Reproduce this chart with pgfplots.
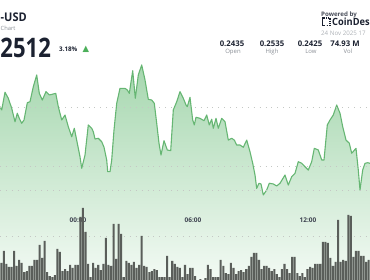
\documentclass[border=0pt]{standalone}
\usepackage{pgfplots}
\pgfplotsset{compat=1.18}
\usepackage{pgfplotstable}
\usepackage{fontspec}
\setmainfont{Open Sans}
\newfontfamily\symfont{DejaVu Sans}
\definecolor{linegreen}{HTML}{66B673}
\definecolor{filltop}{HTML}{A6D7AF}
\definecolor{fillbot}{HTML}{F3FAF4}
\definecolor{bargray}{HTML}{5A5E5A}
\definecolor{darktxt}{HTML}{1B2130}
\definecolor{graytxt}{HTML}{8A8F96}
\definecolor{gridc}{HTML}{C4C7C4}
\definecolor{upgreen}{HTML}{4CAF5A}

\pgfplotstableread{
h p
-4.070 0.25003
-3.981 0.24975
-3.809 0.25125
-3.637 0.25074
-3.459 0.24989
-3.287 0.24875
-3.167 0.24947
-3.063 0.24904
-2.937 0.24862
-2.817 0.24890
-2.645 0.25036
-2.504 0.25045
-2.332 0.25172
-2.155 0.25271
-2.019 0.25116
-1.863 0.25059
-1.670 0.25130
-1.497 0.25102
-1.341 0.25108
-1.163 0.25116
-1.028 0.25003
-0.850 0.24890
-0.678 0.24932
-0.506 0.24833
-0.329 0.24748
-0.193 0.24820
-0.037 0.24693
0.104 0.24579
0.193 0.24481
0.365 0.24593
0.537 0.24848
0.715 0.24820
0.798 0.24791
0.887 0.24729
1.059 0.24735
1.237 0.24706
1.357 0.24659
1.497 0.24551
1.550 0.24452
1.670 0.24452
1.758 0.24551
1.878 0.24805
2.019 0.25031
2.191 0.25158
2.452 0.25158
2.572 0.25144
2.677 0.25116
2.854 0.25307
2.990 0.25074
3.146 0.25271
3.323 0.25356
3.496 0.25229
3.668 0.25065
3.845 0.25059
3.981 0.25031
4.106 0.24862
4.226 0.24693
4.330 0.24593
4.487 0.24715
4.659 0.24636
4.837 0.24630
4.972 0.24975
5.150 0.25045
5.322 0.25130
5.494 0.25074
5.635 0.25017
5.703 0.25003
5.843 0.25082
5.984 0.24890
6.068 0.24848
6.157 0.24913
6.365 0.24904
6.574 0.24884
6.715 0.24932
6.850 0.24848
6.976 0.24896
7.059 0.24820
7.200 0.24904
7.320 0.24820
7.497 0.24904
7.670 0.24875
7.842 0.24720
8.019 0.24735
8.155 0.24720
8.280 0.24678
8.452 0.24678
8.624 0.24659
8.802 0.24720
8.974 0.24621
9.115 0.24523
9.235 0.24424
9.323 0.24311
9.443 0.24354
9.548 0.24348
9.668 0.24255
9.845 0.24297
9.981 0.24354
10.190 0.24348
10.367 0.24331
10.539 0.24354
10.800 0.24424
10.972 0.24339
11.150 0.24410
11.322 0.24438
11.494 0.24537
11.671 0.24523
11.843 0.24494
12.016 0.24466
12.193 0.24537
12.329 0.24650
12.537 0.24636
12.715 0.24551
12.835 0.24551
13.007 0.24848
13.148 0.24890
13.320 0.24932
13.497 0.25017
13.670 0.24947
13.811 0.24833
13.983 0.24720
14.155 0.24693
14.280 0.24608
14.504 0.24650
14.624 0.24466
14.713 0.24297
14.853 0.24466
14.974 0.24523
15.115 0.24528
15.235 0.24523
}\pricedata

\begin{document}
\begin{tikzpicture}
\useasboundingbox (0,0) rectangle (370bp,280bp);
% price axis
\begin{axis}[
  at={(0,0)}, anchor=south west,
  width=370bp, height=280bp, scale only axis,
  xmin=-4.070, xmax=15.235,
  ymin=0.235347, ymax=0.259063,
  axis line style={draw=none},
  tick style={draw=none},
  ytick={0.245,0.25}, yticklabels={},
  ymajorgrids,
  major grid style={gridc, line width=0.9bp, dash pattern=on 0.9bp off 5bp},
  xtick={0,6,12},
  xticklabels={00:00,06:00,12:00},
  xticklabel style={anchor=center, yshift=60bp, font=\fontsize{6.5}{7}\selectfont\bfseries, text=darktxt!85},
  axis on top,
]
\addplot[draw=none, top color=filltop, bottom color=fillbot] table[x=h,y=p]{\pricedata} \closedcycle;
\addplot[linegreen, line width=1.1bp, line join=round] table[x=h,y=p]{\pricedata};
\end{axis}
% volume axis
\begin{axis}[
  at={(0,0)}, anchor=south west,
  width=370bp, height=280bp, scale only axis,
  xmin=0, xmax=145,
  ymin=2, ymax=282,
  axis line style={draw=none},
  tick style={draw=none},
  xtick=\empty,
  ytick={46,92}, yticklabels={},
  ymajorgrids,
  major grid style={gridc, line width=0.9bp, dash pattern=on 0.9bp off 5bp},
]
\addplot[ybar, bar width=0.8, fill=bargray, draw=none] coordinates {
(0.5,19)(1.5,31)(2.5,18)(3.5,15)(4.5,15)(5.5,31)(6.5,16)(7.5,22)(8.5,19)(9.5,10)
(10.5,11)(11.5,16)(12.5,16)(13.5,22)(14.5,22)(15.5,37)(16.5,24)(17.5,41)(18.5,10)(19.5,6)
(20.5,5)(21.5,7)(22.5,33)(23.5,30)(24.5,11)(25.5,13)(26.5,11)(27.5,17)(28.5,14)(29.5,17)
(30.5,17)(31.5,65)(32.5,74)(33.5,50)(34.5,18)(35.5,5)(36.5,19)(37.5,14)(38.5,17)(39.5,12)
(40.5,18)(41.5,44)(42.5,17)(43.5,16)(44.5,58)(45.5,23)(46.5,58)(47.5,48)(48.5,5)(49.5,21)
(50.5,19)(51.5,17)(52.5,20)(53.5,14)(54.5,17)(55.5,46)(56.5,16)(57.5,15)(58.5,10)(59.5,11)
(60.5,13)(61.5,12)(62.5,5)(63.5,5)(64.5,5)(65.5,26)(66.5,5)(67.5,21)(68.5,18)(69.5,15)
(70.5,14)(71.5,5)
(72.5,17)(73.5,8)(74.5,14)(75.5,14)(76.5,6)(77.5,2)(78.5,3)(79.5,2)(80.5,4)(81.5,17)
(82.5,13)(83.5,5)(84.5,5)(85.5,5)(86.5,22)(87.5,16)(88.5,9)(89.5,8)(90.5,19)(91.5,14)
(92.5,8)(93.5,11)(94.5,12)(95.5,10)(96.5,13)(97.5,16)(98.5,25)(99.5,29)(100.5,29)(101.5,22)
(102.5,13)(103.5,16)(104.5,16)(105.5,14)(106.5,11)(107.5,13)(108.5,8)(109.5,5)(110.5,13)(111.5,18)
(112.5,13)(113.5,9)(114.5,25)(115.5,25)(116.5,9)(117.5,6)(118.5,9)(119.5,5)(120.5,13)(121.5,15)
(122.5,14)(123.5,18)(124.5,18)(125.5,18)(126.5,40)(127.5,40)(128.5,39)(129.5,24)(130.5,16)(131.5,20)
(132.5,62)(133.5,20)(134.5,22)(135.5,21)(136.5,67)(137.5,66)(138.5,25)(139.5,31)(140.5,31)(141.5,26)
(142.5,26)(143.5,20)(144.5,22)
};
\end{axis}
% header left
\node[anchor=base west, inner sep=0, font=\fontsize{12}{12}\selectfont\bfseries, text=darktxt] at (0.5bp,258bp) {\scalebox{0.92}[1]{-USD}};
\node[anchor=base west, inner sep=0, font=\fontsize{5.8}{7}\selectfont, text=graytxt] at (0.5bp,249.5bp) {Chart};
\node[anchor=base west, inner sep=0, font=\fontsize{27}{28}\selectfont\bfseries, text=darktxt] at (0.3bp,222.7bp) {\scalebox{0.82}[1]{2512}};
\node[anchor=base west, inner sep=0, font=\fontsize{6.3}{7}\selectfont\bfseries, text=darktxt] at (59bp,228bp) {3.18\%};
\node[anchor=base west, inner sep=0, font=\symfont\fontsize{8.5}{8.5}\selectfont, text=upgreen] at (82.5bp,228bp) {▲};
% header right
\node[anchor=base west, inner sep=0, font=\fontsize{6.2}{7}\selectfont\bfseries, text=darktxt!80] at (321bp,263.5bp) {Powered by};
\draw[darktxt, line width=1.2bp] (325bp,262bp) -- (322.6bp,262bp) -- (322.6bp,254.6bp) -- (325bp,254.6bp);
\draw[darktxt, line width=1.2bp, dash pattern=on 1.2bp off 1bp] (326bp,262bp) -- (330bp,262bp) -- (330bp,254.6bp) -- (326bp,254.6bp);
\node[anchor=base west, inner sep=0, font=\fontsize{10}{11}\selectfont\bfseries, text=darktxt] at (332bp,254.5bp) {\scalebox{0.93}[1]{CoinDes}};
\node[anchor=base west, inner sep=0, font=\fontsize{6.2}{7}\selectfont, text=graytxt!70] at (321bp,244bp) {24 Nov 2025 17};
\foreach \x/\v in {232/0.2435, 272/0.2535, 310/0.2425, 345/74.93 M}
  \node[anchor=base, inner sep=0, font=\fontsize{7.8}{8}\selectfont\bfseries, text=darktxt] at (\x bp,233bp) {\v};
\foreach \x/\l in {233/Open, 272/High, 311/Low, 348/Vol}
  \node[anchor=base, inner sep=0, font=\fontsize{6}{7}\selectfont, text=graytxt] at (\x bp,226bp) {\l};
\end{tikzpicture}
\end{document}
